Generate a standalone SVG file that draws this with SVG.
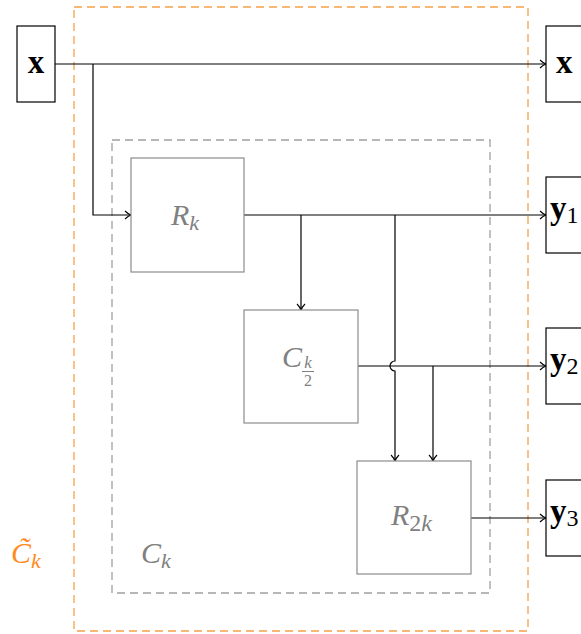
<svg xmlns="http://www.w3.org/2000/svg" width="581" height="634" viewBox="0 0 581 634">
<style>
.io{fill:#fff;stroke:#000;stroke-width:1.2}
.blk{fill:#fff;stroke:#8c8c8c;stroke-width:1.2}
.bt{font-family:"Liberation Serif","DejaVu Serif",serif;font-weight:bold;font-size:33px;fill:#000}
.sub{font-family:"Liberation Serif","DejaVu Serif",serif;font-size:24px;fill:#000;font-weight:normal}
.gt{font-family:"Liberation Serif","DejaVu Serif",serif;font-style:italic;font-size:30px;fill:#808080}
.w{fill:none;stroke:#000;stroke-width:1.2}
</style>
<defs>
<marker id="ar" viewBox="0 0 10 10" refX="9" refY="5" markerWidth="10" markerHeight="10" markerUnits="userSpaceOnUse" orient="auto">
<path d="M3,1 Q6,4 9,5 Q6,6 3,9" fill="none" stroke="#000" stroke-width="1.1"/>
</marker>
</defs>
<rect x="74" y="7" width="454" height="624" fill="none" stroke="#f7a04a" stroke-width="1.3" stroke-dasharray="8,5"/>
<rect x="112" y="140" width="378" height="453" fill="none" stroke="#a0a0a0" stroke-width="1.3" stroke-dasharray="8,5"/>
<g id="cluster-labels">
<text x="141" y="563" class="gt">C<tspan font-size="22" dy="5">k</tspan></text>
<text x="11" y="563" class="gt" style="fill:#ff8a1e">C̃<tspan font-size="22" dy="5">k</tspan></text>
</g>
<g id="connectors">
<path class="w" d="M55,64 H546" marker-end="url(#ar)"/>
<path class="w" d="M93,64 V215 H131" marker-end="url(#ar)"/>
<path class="w" d="M244,215 H546" marker-end="url(#ar)"/>
<path class="w" d="M301,215 V310" marker-end="url(#ar)"/>
<path class="w" d="M395,215 V361 A5,5 0 0 0 395,371 V461" marker-end="url(#ar)"/>
<path class="w" d="M358,366 H546" marker-end="url(#ar)"/>
<path class="w" d="M433,366 V461" marker-end="url(#ar)"/>
<path class="w" d="M471,518 H546" marker-end="url(#ar)"/>
</g>
<g id="x-in">
<rect class="io" x="17" y="26" width="38" height="76"/>
<text class="bt" x="36" y="73" text-anchor="middle">x</text>
</g>
<g id="x-out">
<rect class="io" x="546" y="26" width="60" height="76"/>
<text class="bt" x="556" y="73">x</text>
</g>
<g id="y1">
<rect class="io" x="546" y="177" width="60" height="76"/>
<text class="bt" x="550" y="219">y<tspan class="sub" dy="4">1</tspan></text>
</g>
<g id="y2">
<rect class="io" x="546" y="328" width="60" height="76"/>
<text class="bt" x="550" y="370">y<tspan class="sub" dy="4">2</tspan></text>
</g>
<g id="y3">
<rect class="io" x="546" y="480" width="60" height="76"/>
<text class="bt" x="550" y="522">y<tspan class="sub" dy="4">3</tspan></text>
</g>
<g id="Rk">
<rect class="blk" x="131" y="158" width="113" height="114"/>
<text class="gt" x="171" y="225">R<tspan font-size="22" dy="5">k</tspan></text>
</g>
<g id="Ck2">
<rect class="blk" x="244" y="310" width="114" height="113"/>
<text class="gt" x="282" y="367">C</text>
<text x="308" y="368" font-family="Liberation Serif,serif" font-style="italic" font-size="17" fill="#808080" text-anchor="middle">k</text>
<line x1="302" y1="371.5" x2="314" y2="371.5" stroke="#808080" stroke-width="1"/>
<text x="308" y="386" font-family="Liberation Serif,serif" font-size="16" fill="#808080" text-anchor="middle">2</text>
</g>
<g id="R2k">
<rect class="blk" x="357" y="461" width="114" height="113"/>
<text class="gt" x="391" y="525">R<tspan font-size="24" font-style="normal" dy="6">2</tspan><tspan font-size="24" dy="0">k</tspan></text>
</g>
</svg>
